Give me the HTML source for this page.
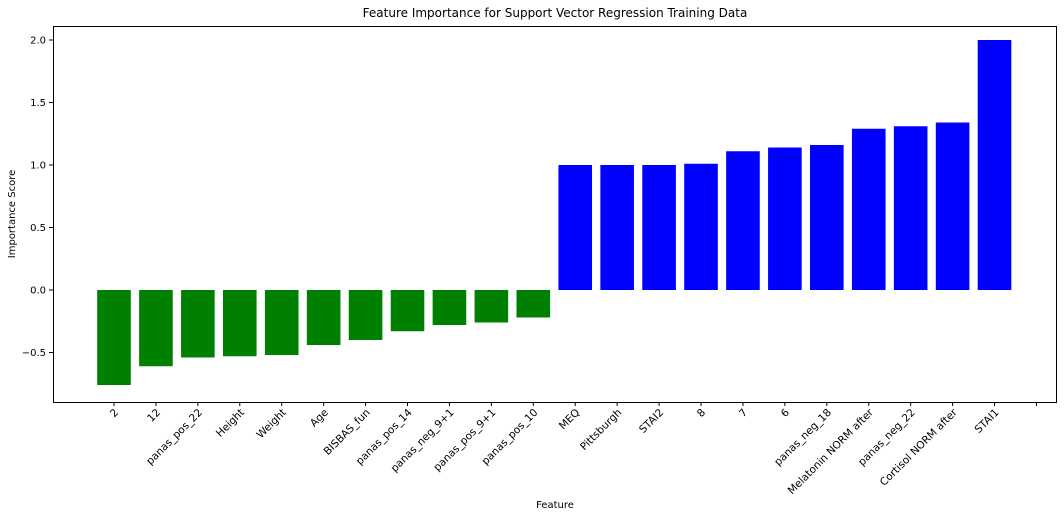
<!DOCTYPE html>
<html><head><meta charset="utf-8"><style>
html,body{margin:0;padding:0;background:#fff;}
svg{display:block;font-family:"DejaVu Sans","Liberation Sans",sans-serif;}
</style></head><body>
<svg id="chart" width="1064" height="516">
<text x="555" y="17" text-anchor="middle" font-size="12">Feature Importance for Support Vector Regression Training Data</text>
<text x="555" y="508" text-anchor="middle" font-size="10">Feature</text>
<text transform="translate(15,214) rotate(-90)" text-anchor="middle" font-size="10">Importance Score</text>
<g id="marks"></g>
<rect x="53.5" y="26.5" width="1003" height="376" fill="none" stroke="#000" stroke-width="1"/>
</svg>
<script>
const categories=["2","12","panas_pos_22","Height","Weight","Age","BISBAS_fun","panas_pos_14","panas_neg_9+1","panas_pos_9+1","panas_pos_10","MEQ","Pittsburgh","STAI2","8","7","6","panas_neg_18","Melatonin NORM after","panas_neg_22","Cortisol NORM after","STAI1",""];
const values=[-0.76,-0.61,-0.54,-0.53,-0.52,-0.44,-0.40,-0.33,-0.28,-0.26,-0.22,1.0,1.0,1.0,1.01,1.11,1.14,1.16,1.29,1.31,1.34,2.0];
const yTicks=[-0.5,0.0,0.5,1.0,1.5,2.0];
const yTickLabels=["−0.5","0.0","0.5","1.0","1.5","2.0"];
const NS="http://www.w3.org/2000/svg";
const g=document.getElementById('marks');
function y(v){return 290-v*125;}
function x(i){return 114+i*41.93;}
function mk(t,a){const e=document.createElementNS(NS,t);for(const k in a)e.setAttribute(k,a[k]);g.appendChild(e);return e;}
yTicks.forEach((t,i)=>{
 const l=mk('line',{x1:49,x2:53,y1:y(t),y2:y(t),stroke:'#000'});
 
 
 const tx=mk('text',{x:46,y:y(t)+3.5,'text-anchor':'end','font-size':10});
 tx.textContent=yTickLabels[i];
 
 
});
values.forEach((v,i)=>{
 const top=Math.min(y(v),y(0)),h=Math.abs(y(v)-y(0));
 const r=mk('rect',{x:x(i)-16.8,y:top,width:33.6,height:h,fill:v<0?'#008000':'#0000ff'});
 
 
});
categories.forEach((c,i)=>{
 const l=mk('line',{x1:x(i),x2:x(i),y1:402,y2:406,stroke:'#000'});
 
 
 if(c){
  const t=mk('text',{transform:`translate(${x(i)+5},${413}) rotate(-45)`,'text-anchor':'end','font-size':10.5});
  t.textContent=c;
  
  
 }
});
</script>
</body></html>
